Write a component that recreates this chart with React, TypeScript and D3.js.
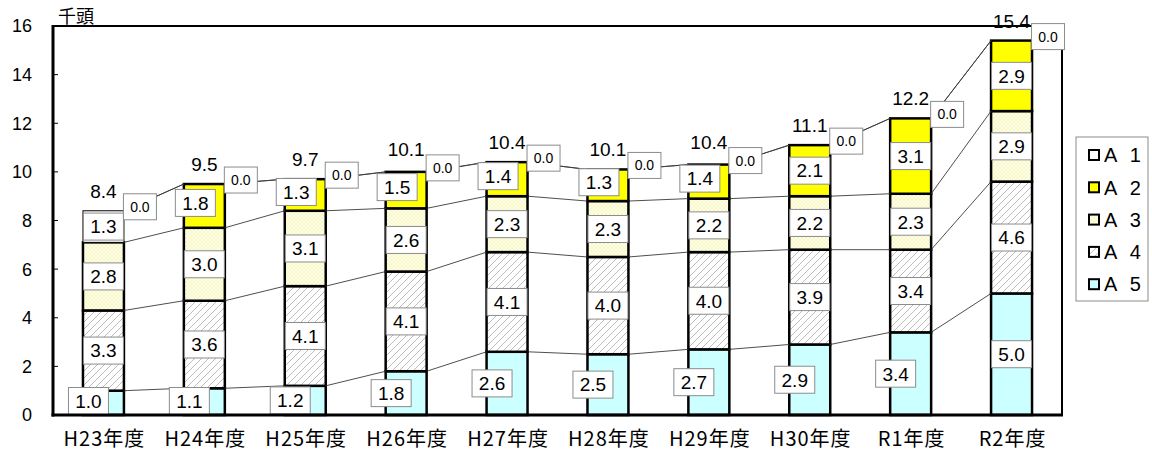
import { useEffect, useRef } from "react";
import * as d3 from "d3";

// Chart data
const categories = ["H23年度", "H24年度", "H25年度", "H26年度", "H27年度", "H28年度", "H29年度", "H30年度", "R1年度", "R2年度"];
const seriesNames = ["A 1", "A 2", "A 3", "A 4", "A 5"];
const a1 = [0.0, 0.0, 0.0, 0.0, 0.0, 0.0, 0.0, 0.0, 0.0, 0.0];
const a2 = [1.3, 1.8, 1.3, 1.5, 1.4, 1.3, 1.4, 2.1, 3.1, 2.9];
const a3 = [2.8, 3.0, 3.1, 2.6, 2.3, 2.3, 2.2, 2.2, 2.3, 2.9];
const a4 = [3.3, 3.6, 4.1, 4.1, 4.1, 4.0, 4.0, 3.9, 3.4, 4.6];
const a5 = [1.0, 1.1, 1.2, 1.8, 2.6, 2.5, 2.7, 2.9, 3.4, 5.0];
const totals = [8.4, 9.5, 9.7, 10.1, 10.4, 10.1, 10.4, 11.1, 12.2, 15.4];
const yTicks = [0, 2, 4, 6, 8, 10, 12, 14, 16];
// the A 2 point of H23 has no yellow fill in the original
const plainA2 = ["H23年度"];

const FONT = "'Liberation Sans', 'Noto Sans CJK JP', sans-serif";
const JP = "'Noto Sans CJK JP', sans-serif";

export default function App(): JSX.Element {
    const svgRef = useRef<SVGSVGElement>(null);
    const width = 1152;
    const height = 455;

    useEffect(() => {
        const svg = d3.select(svgRef.current);
        svg.selectAll("*").remove();

        const left = 53, right = 1062, top = 26, bottom = 415;

        const x = d3.scaleBand<string>()
            .domain(categories)
            .range([left, right])
            .paddingInner(0.594)
            .paddingOuter(0.297);
        const y = d3.scaleLinear().domain([0, 16]).range([bottom, top]);

        // patterns
        const defs = svg.append("defs");
        const hatch = defs.append("pattern")
            .attr("id", "hatchA4").attr("patternUnits", "userSpaceOnUse")
            .attr("width", 7).attr("height", 7);
        hatch.append("rect").attr("width", 7).attr("height", 7).attr("fill", "#ffffff");
        hatch.append("path").attr("d", "M-1,8 L8,-1 M-1,1 L1,-1 M6,8 L8,6")
            .attr("stroke", "#b4b4b4").attr("stroke-width", 0.9);
        const dots = defs.append("pattern")
            .attr("id", "dotA3").attr("patternUnits", "userSpaceOnUse")
            .attr("width", 4).attr("height", 4);
        dots.append("rect").attr("width", 4).attr("height", 4).attr("fill", "#ffffe6");
        dots.append("path").attr("d", "M0,0 L4,4 M4,0 L0,4")
            .attr("stroke", "#f4f0b8").attr("stroke-width", 0.6);

        const fills: Record<string, string> = {
            a5: "#ccffff",
            a4: "url(#hatchA4)",
            a3: "url(#dotA3)",
            a2: "#ffff00",
            a1: "#ffffff",
        };

        const rows = categories.map((c, i) => ({ cat: c, a5: a5[i], a4: a4[i], a3: a3[i], a2: a2[i], a1: a1[i] }));
        const keys = ["a5", "a4", "a3", "a2", "a1"];
        const stacked = d3.stack<any>().keys(keys)(rows);

        // plot frame
        svg.append("rect")
            .attr("x", left).attr("y", top)
            .attr("width", right - left).attr("height", bottom - top)
            .attr("fill", "none").attr("stroke", "#000").attr("stroke-width", 2);

        // bars
        stacked.forEach(layer => {
            if (layer.key === "a1") return;
            svg.append("g").selectAll("rect")
                .data(layer)
                .enter().append("rect")
                .attr("x", d => x(d.data.cat)!)
                .attr("width", x.bandwidth())
                .attr("y", d => y(d[1]))
                .attr("height", d => y(d[0]) - y(d[1]))
                .attr("fill", d => layer.key === "a2" && plainA2.includes(d.data.cat) ? "#ffffff" : fills[layer.key])
                .attr("stroke", "#000")
                .attr("stroke-width", d => layer.key === "a2" && plainA2.includes(d.data.cat) ? 1 : 2.5);
        });

        // series lines between bars
        stacked.forEach(layer => {
            const segs = d3.range(categories.length - 1).map(i => ({
                x1: x(categories[i])! + x.bandwidth(),
                y1: y(layer[i][1]),
                x2: x(categories[i + 1])!,
                y2: y(layer[i + 1][1]),
            }));
            svg.append("g").selectAll("line")
                .data(segs)
                .enter().append("line")
                .attr("x1", d => d.x1).attr("y1", d => d.y1)
                .attr("x2", d => d.x2).attr("y2", d => d.y2)
                .attr("stroke", "#3a3a3a").attr("stroke-width", 0.9);
        });

        // data label boxes
        const labelBox = (cx: number, cy: number, text: string, size: number, w: number, h: number) => {
            const g = svg.append("g");
            g.append("rect")
                .attr("x", cx - w / 2).attr("y", cy - h / 2)
                .attr("width", w).attr("height", h)
                .attr("fill", "#ffffff").attr("stroke", "#8c8c8c").attr("stroke-width", 1);
            g.append("text")
                .attr("x", cx).attr("y", cy)
                .attr("dy", "0.36em")
                .attr("text-anchor", "middle")
                .attr("font-family", FONT).attr("font-size", size)
                .attr("fill", "#000")
                .text(text);
        };

        stacked.forEach(layer => {
            layer.forEach((d, i) => {
                const bx = x(categories[i])!;
                const cx = bx + x.bandwidth() / 2;
                const v = d[1] - d[0];
                if (layer.key === "a1") {
                    labelBox(bx + x.bandwidth() + 16, y(d[1]) - 4, v.toFixed(1), 14, 33, 26);
                    return;
                }
                let dx = 0, cy = (y(d[0]) + y(d[1])) / 2;
                if (layer.key === "a5" && i < categories.length - 1) dx = -15;
                if (layer.key === "a2" && i > 0 && i < 7) { dx = -9; cy -= 3; }
                if (layer.key === "a5") cy = Math.min(cy, bottom - 14);
                labelBox(cx + dx, cy, v.toFixed(1), 19, 40, 27);
            });
        });

        // totals above the bars
        svg.append("g").selectAll("text")
            .data(totals)
            .enter().append("text")
            .attr("x", (d, i) => x(categories[i])! + x.bandwidth() / 2)
            .attr("y", (d, i) => y(d) - 13)
            .attr("text-anchor", "middle")
            .attr("font-family", FONT).attr("font-size", 19)
            .text(d => d.toFixed(1));

        // y axis
        const yAxis = svg.append("g");
        yAxis.selectAll("line")
            .data(yTicks)
            .enter().append("line")
            .attr("x1", left).attr("x2", left + 5)
            .attr("y1", d => y(d)).attr("y2", d => y(d))
            .attr("stroke", "#000").attr("stroke-width", 1);
        yAxis.selectAll("text")
            .data(yTicks)
            .enter().append("text")
            .attr("x", 32).attr("y", d => y(d))
            .attr("dy", "0.36em")
            .attr("text-anchor", "end")
            .attr("font-family", FONT).attr("font-size", 18)
            .text(d => d);
        svg.append("line")
            .attr("x1", left).attr("x2", left)
            .attr("y1", top - 1).attr("y2", bottom + 1.5)
            .attr("stroke", "#000").attr("stroke-width", 3);
        svg.append("line")
            .attr("x1", left - 1.5).attr("x2", right + 1)
            .attr("y1", bottom).attr("y2", bottom)
            .attr("stroke", "#000").attr("stroke-width", 3);

        // unit
        svg.append("text")
            .attr("x", 58).attr("y", 23)
            .attr("font-family", JP).attr("font-size", 18)
            .text("千頭");

        // x labels
        svg.append("g").selectAll("text")
            .data(categories)
            .enter().append("text")
            .attr("x", d => x(d)! + x.bandwidth() / 2 + 1)
            .attr("y", 446)
            .attr("text-anchor", "middle")
            .attr("font-family", JP).attr("font-size", 20)
            .attr("letter-spacing", 1)
            .text(d => d);

        // legend
        const legend = svg.append("g");
        legend.append("rect")
            .attr("x", 1076).attr("y", 137)
            .attr("width", 72).attr("height", 164)
            .attr("fill", "#fff").attr("stroke", "#8c8c8c").attr("stroke-width", 1);
        const legendFill = [fills.a1, fills.a2, fills.a3, fills.a4, fills.a5];
        seriesNames.forEach((name, i) => {
            const ly = 155 + i * 32.3;
            legend.append("rect")
                .attr("x", 1089).attr("y", ly - 5)
                .attr("width", 10).attr("height", 10)
                .attr("fill", legendFill[i])
                .attr("stroke", "#000").attr("stroke-width", 2);
            legend.append("text")
                .attr("x", 1104).attr("y", ly)
                .attr("dy", "0.36em")
                .attr("font-family", FONT).attr("font-size", 20)
                .attr("letter-spacing", 4)
                .text(name);
        });
    }, []);

    return (
        <svg
            ref={svgRef}
            width={width}
            height={height}
            style={{ position: "absolute", left: 0, top: 0, background: "#fff" }}
        />
    );
}
